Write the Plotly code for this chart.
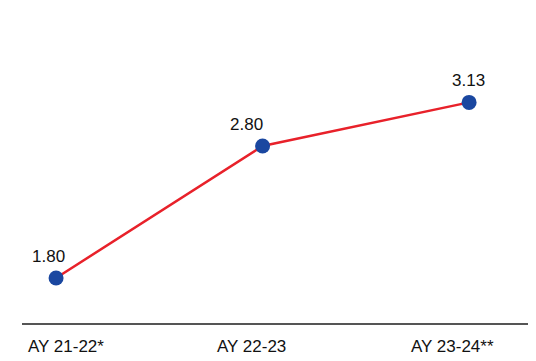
import plotly.graph_objects as go

# data
years = ["AY 21-22*", "AY 22-23", "AY 23-24**"]
values = [1.80, 2.80, 3.13]
value_text = ["1.80", "2.80", "3.13"]

# small offsets to mimic the original label placement
label_dx = [-8, -16, -1]
tick_dx = [10, -11, -17]

FONT = "Liberation Sans, Arial, Helvetica, sans-serif"

fig = go.Figure()
fig.add_trace(go.Scatter(
    x=years, y=values, mode="lines+markers",
    line=dict(color="#e8212a", width=2.5),
    marker=dict(color="#1a47a0", size=15),
    hoverinfo="skip",
))

for i, (yr, v, t) in enumerate(zip(years, values, value_text)):
    fig.add_annotation(
        x=yr, y=v, text=t, showarrow=False,
        xanchor="center", yanchor="bottom",
        xshift=label_dx[i], yshift=10,
        font=dict(size=17, color="#111111", family=FONT),
    )
    fig.add_annotation(
        x=yr, y=0, yref="paper", text=yr, showarrow=False,
        xanchor="center", yanchor="top",
        xshift=tick_dx[i], yshift=-12,
        font=dict(size=17, color="#111111", family=FONT),
    )

# the page body adds an 8px margin, so the figure is sized to fit the window
fig.update_layout(
    width=528, height=353,
    margin=dict(l=14, r=0, t=0, b=38),
    paper_bgcolor="white", plot_bgcolor="white",
    showlegend=False,
    xaxis=dict(
        type="category", range=[-0.165, 2.324],
        showgrid=False, zeroline=False, showticklabels=False, ticks="",
        showline=True, linecolor="#555555", linewidth=2,
        fixedrange=True,
    ),
    yaxis=dict(
        range=[1.459, 3.845], visible=False, fixedrange=True,
    ),
)

fig.write_html("out.html", config={"displayModeBar": False})
